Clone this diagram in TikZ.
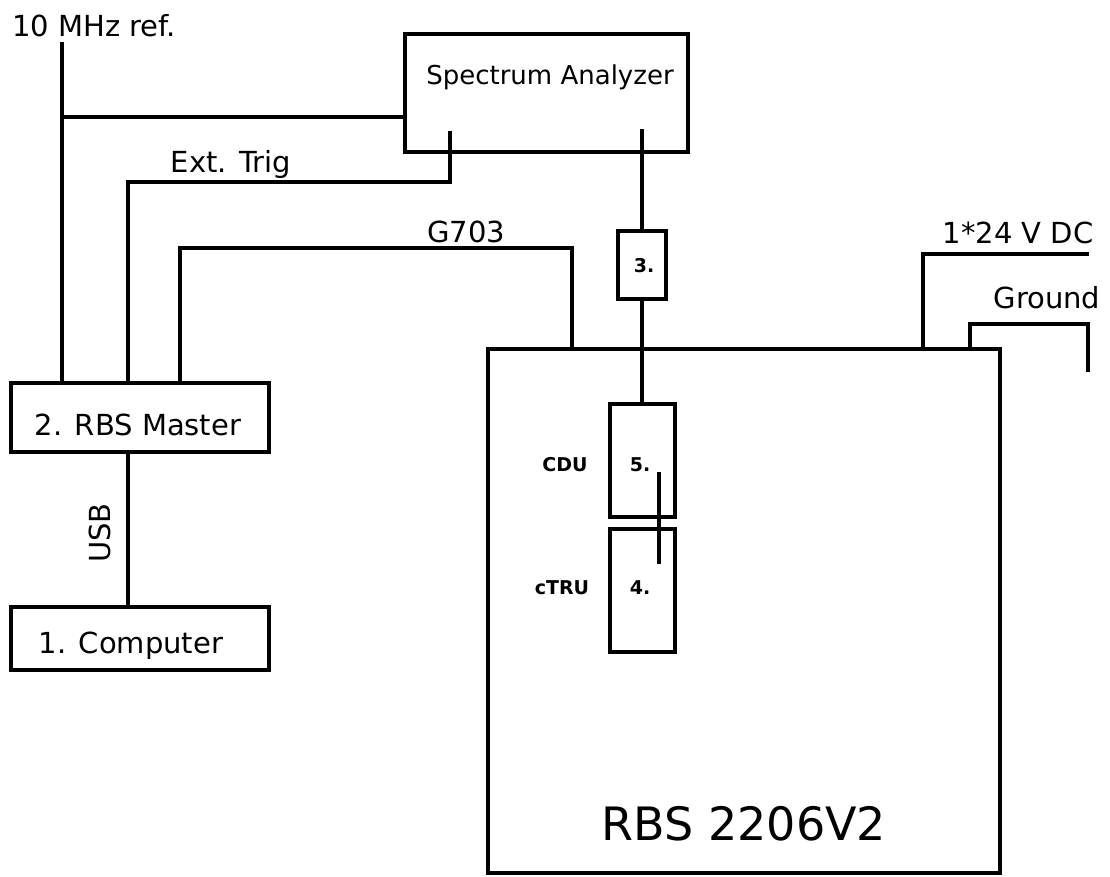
\documentclass[tikz,border=0pt]{standalone}
\usepackage{fontspec}
\setmainfont{DejaVu Sans}
\begin{document}
\begin{tikzpicture}[x=1pt,y=-1pt,
  wire/.style={line width=3.5pt},
  box/.style={draw,line width=4pt,rectangle,inner sep=0pt},
  lbl/.style={inner sep=0pt,font=\fontsize{29}{33}\selectfont},
  small/.style={inner sep=0pt,font=\fontsize{19}{22}\selectfont\bfseries},
  big/.style={inner sep=0pt,font=\fontsize{46}{54}\selectfont}]
\useasboundingbox (0,0) rectangle (1110,876);
% boxes
\node[box,minimum width=283pt,minimum height=118pt] (sa) at (546.5,92.5) {};
\node[box,minimum width=258pt,minimum height=69pt] (master) at (140,417.5) {};
\node[box,minimum width=258pt,minimum height=63pt] (comp) at (140,638.5) {};
\node[box,minimum width=48pt,minimum height=68pt] (b3) at (642,265) {};
\node[box,minimum width=512pt,minimum height=524pt] (rbs) at (744,611) {};
\node[box,minimum width=65pt,minimum height=113pt] (cdu) at (642,460.5) {};
\node[box,minimum width=65pt,minimum height=123pt] (ctru) at (642,590.5) {};
% texts
\node[lbl,font=\fontsize{26}{30}\selectfont] (sat) at (550,77) {Spectrum Analyzer};
\node[lbl] (mt) at (138,425) {2. RBS Master};
\node[lbl] (ct) at (131,646) {1. Computer};
\node[lbl,anchor=west] (ref) at (12,26) {10 MHz ref.};
\node[lbl] (et) at (231,164) {Ext. Trig};
\node[lbl] (g7) at (466,232) {G703};
\node[lbl] (dct) at (1018,233) {1*24 V DC};
\node[lbl] (gnt) at (1047,298) {Ground};
\node[lbl,rotate=90] (usbt) at (100,533) {USB};
\node[small] (t3) at (644,266) {3.};
\node[small] (t5) at (640,465) {5.};
\node[small] (t4) at (640,588) {4.};
\node[small] (cdut) at (565,465) {CDU};
\node[small] (ctrut) at (562,588) {cTRU};
\node[big] (rbst) at (744,824) {RBS 2206V2};
% connectors
\coordinate (reftop) at (62,42);
\coordinate (j1) at (62,117);
\draw[wire] (reftop) -- (reftop |- master.north);
\draw[wire] (j1) -- (j1 -| sa.west);
\coordinate (etop) at (450,131);
\coordinate (etc) at (128,182);
\draw[wire] (etop) |- (etc) -- (etc |- master.north);
\coordinate (sar) at (642,129);
\draw[wire] (sar) -- (b3.north);
\draw[wire] (b3.south) -- (cdu.north);
\coordinate (gl) at (180,248);
\coordinate (gr) at (572,248);
\draw[wire] (gl |- master.north) -- (gl) -- (gr) -- (gr |- rbs.north);
\coordinate (dc) at (923,254);
\coordinate (dce) at (1089,254);
\draw[wire] (dc |- rbs.north) -- (dc) -- (dce);
\coordinate (gn1) at (970,324);
\coordinate (gn2) at (1088,324);
\coordinate (gn3) at (1088,372);
\draw[wire] (gn1 |- rbs.north) -- (gn1) -- (gn2) -- (gn3);
\coordinate (usb) at (128,452);
\draw[wire] (usb) -- (usb |- comp.north);
\coordinate (xa) at (659,472);
\coordinate (xb) at (659,564);
\draw[wire] (xa) -- (xb);
\end{tikzpicture}
\end{document}
